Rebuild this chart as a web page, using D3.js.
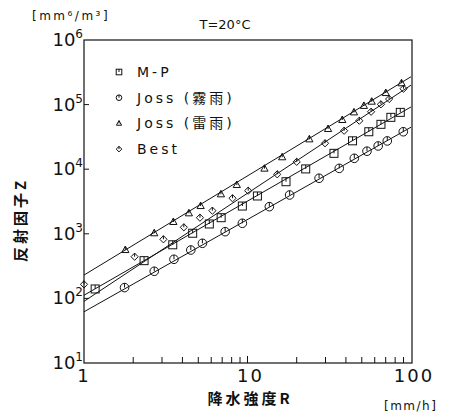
<!DOCTYPE html>
<html>
<head>
<meta charset="utf-8">
<script src="https://cdn.jsdelivr.net/npm/d3@7"></script>
<style>
  body { margin: 0; background: #fff; }
  svg text { fill: #111; }
</style>
</head>
<body>
<div id="chart"></div>
<script>
// Data: R [mm/h], Z [mm^6/m^3]
const rMP = [1.17, 2.33, 3.49, 4.62, 5.84, 6.9, 9.3, 11.5, 17.2, 22.7, 33.8, 43.9, 55.2, 65.5, 75.3, 86];
const zMP = [140, 384, 676, 1020, 1420, 1775, 2690, 3850, 6400, 10100, 17600, 27500, 38000, 49500, 63500, 75800];

const rDrizzle = [1.77, 2.69, 3.55, 4.5, 5.3, 7.3, 9.3, 13.6, 18.1, 27.4, 36.4, 45, 53.8, 63, 71.6, 89.7];
const zDrizzle = [147, 263, 403, 561, 713, 1079, 1455, 2630, 3990, 7240, 10300, 14750, 19000, 22900, 27400, 38000];

const rThunder = [1.79, 2.69, 3.52, 4.38, 5.17, 6.88, 8.6, 12.7, 16.3, 23.9, 31.1, 38, 44.8, 51.5, 57.5, 70.1, 87.5];
const zThunder = [561, 1019, 1524, 2075, 2690, 4085, 5690, 10200, 15300, 29000, 41900, 57800, 75800, 95500, 111000, 151000, 214000];

const rBest = [1.0, 2.04, 3.06, 4.08, 5.12, 6.1, 8.1, 10.1, 15.2, 20, 29.8, 39, 48.3, 57, 65.5, 73.5, 90];
const zBest = [165, 442, 822, 1260, 1775, 2280, 3550, 4650, 8330, 13000, 25200, 39400, 56300, 77500, 101000, 122000, 176000];

// fitted lines, end values at R = 1 and R = 100
const lineR = [1, 100];
const lineMP = [112, 92000];
const lineDrizzle = [62, 44700];
const lineThunder = [230, 270000];
const lineBest = [90, 200000];

const xTicks = [1, 10, 100];
const yTicks = [1e1, 1e2, 1e3, 1e4, 1e5, 1e6];

const legendNames = ["M-P", "Joss (霧雨)", "Joss (雷雨)", "Best"];

const W = 451, H = 414;
const margin = { top: 40, right: 40, bottom: 51, left: 84 };

const svg = d3.select("#chart").append("svg")
    .attr("width", W)
    .attr("height", H);

const x = d3.scaleLog().domain([1, 100]).range([margin.left, W - margin.right]);
const y = d3.scaleLog().domain([10, 1e6]).range([H - margin.bottom, margin.top]);

// cadre
svg.append("rect")
    .attr("x", x(1)).attr("y", y(1e6))
    .attr("width", x(100) - x(1) + 1).attr("height", y(10) - y(1e6))
    .attr("fill", "none").attr("stroke", "#111").attr("stroke-width", 1.2);

// x ticks, pointing inward
const xMinor = d3.range(2, 10).concat(d3.range(20, 100, 10));
svg.append("g").selectAll("line").data(xMinor.concat([10])).enter().append("line")
    .attr("x1", d => x(d)).attr("x2", d => x(d))
    .attr("y1", y(10)).attr("y2", d => y(10) - (d === 10 ? 7 : 6))
    .attr("stroke", "#111").attr("stroke-width", 1);

// y ticks, pointing inward
svg.append("g").selectAll("line").data(yTicks.slice(1, 5)).enter().append("line")
    .attr("x1", x(1)).attr("x2", x(1) + 5)
    .attr("y1", d => y(d)).attr("y2", d => y(d))
    .attr("stroke", "#111").attr("stroke-width", 1);

// x tick labels
svg.append("g").selectAll("text").data(xTicks).enter().append("text")
    .attr("x", d => x(d) + (d === 1 ? 0 : 3))
    .attr("y", y(10) + 19)
    .attr("text-anchor", "middle")
    .style("font-family", "DejaVu Sans, sans-serif")
    .style("font-size", "18px")
    .style("letter-spacing", "2px")
    .text(d => d);

// y tick labels 10^n
const yLab = svg.append("g").selectAll("text").data(yTicks).enter().append("text")
    .attr("x", x(1) - 1)
    .attr("y", d => y(d) + 6)
    .attr("text-anchor", "end")
    .style("font-family", "DejaVu Sans, sans-serif")
    .style("font-size", "18px");
yLab.append("tspan").text("10");
yLab.append("tspan")
    .attr("dy", -8)
    .style("font-size", "12px")
    .text(d => Math.round(Math.log10(d)));

// fitted lines
const line = d3.line().x(d => x(d[0])).y(d => y(d[1]));
[lineMP, lineDrizzle, lineThunder, lineBest].forEach(z => {
    svg.append("path")
        .attr("d", line(lineR.map((r, i) => [r, z[i]])))
        .attr("fill", "none").attr("stroke", "#111").attr("stroke-width", 1);
});

// markers
function marker(g, type, s) {
    g.attr("fill", "none").attr("stroke", "#111").attr("stroke-width", 1);
    if (type === "square") {
        g.append("rect").attr("x", -s).attr("y", -s).attr("width", 2 * s).attr("height", 2 * s);
    } else if (type === "circle") {
        g.append("circle").attr("r", s);
    } else if (type === "triangle") {
        g.append("path").attr("d", `M0,${-s * 1.1}L${s},${s * 0.7}L${-s},${s * 0.7}Z`);
    } else {
        g.append("path").attr("d", `M0,${-s}L${s},0L0,${s}L${-s},0Z`);
    }
    g.append("line").attr("x1", 0).attr("x2", 0).attr("y1", -s).attr("y2", 0);
}

const series = [
    { r: rMP, z: zMP, type: "square", s: 4 },
    { r: rDrizzle, z: zDrizzle, type: "circle", s: 4.3 },
    { r: rThunder, z: zThunder, type: "triangle", s: 3.6 },
    { r: rBest, z: zBest, type: "diamond", s: 3.6 }
];

series.forEach(se => {
    se.r.forEach((r, i) => {
        const g = svg.append("g").attr("transform", `translate(${x(r)},${y(se.z[i])})`);
        marker(g, se.type, se.s);
    });
});

// legend
series.forEach((se, i) => {
    const ly = 72 + i * 25.7;
    const g = svg.append("g").attr("transform", `translate(119,${ly})`);
    marker(g, se.type, se.type === "triangle" ? 2.6 : 2.8);
    svg.append("text")
        .attr("x", 137).attr("y", ly + 5)
        .style("font-family", "DejaVu Sans, Noto Sans CJK JP, sans-serif")
        .style("font-size", "14px")
        .style("letter-spacing", "3px")
        .text(legendNames[i]);
});

// titres
svg.append("text")
    .attr("x", 225).attr("y", 29)
    .attr("text-anchor", "middle")
    .style("font-family", "DejaVu Sans, sans-serif")
    .style("font-size", "13px")
    .text("T=20°C");

svg.append("text")
    .attr("x", 32).attr("y", 20)
    .style("font-family", "DejaVu Sans, sans-serif")
    .style("font-size", "12px")
    .style("letter-spacing", "2.5px")
    .text("[mm⁶/m³]");

svg.append("text")
    .attr("transform", "translate(26,220) rotate(-90)")
    .attr("text-anchor", "middle")
    .style("font-family", "Noto Sans CJK JP, sans-serif")
    .style("font-size", "15px")
    .style("font-weight", "bold")
    .style("letter-spacing", "3px")
    .text("反射因子Z");

svg.append("text")
    .attr("x", 250).attr("y", 404)
    .attr("text-anchor", "middle")
    .style("font-family", "Noto Sans CJK JP, sans-serif")
    .style("font-size", "15px")
    .style("font-weight", "bold")
    .style("letter-spacing", "3px")
    .text("降水強度R");

svg.append("text")
    .attr("x", 384).attr("y", 410)
    .style("font-family", "DejaVu Sans, sans-serif")
    .style("font-size", "12px")
    .style("letter-spacing", "1.5px")
    .text("[mm/h]");
</script>
</body>
</html>
